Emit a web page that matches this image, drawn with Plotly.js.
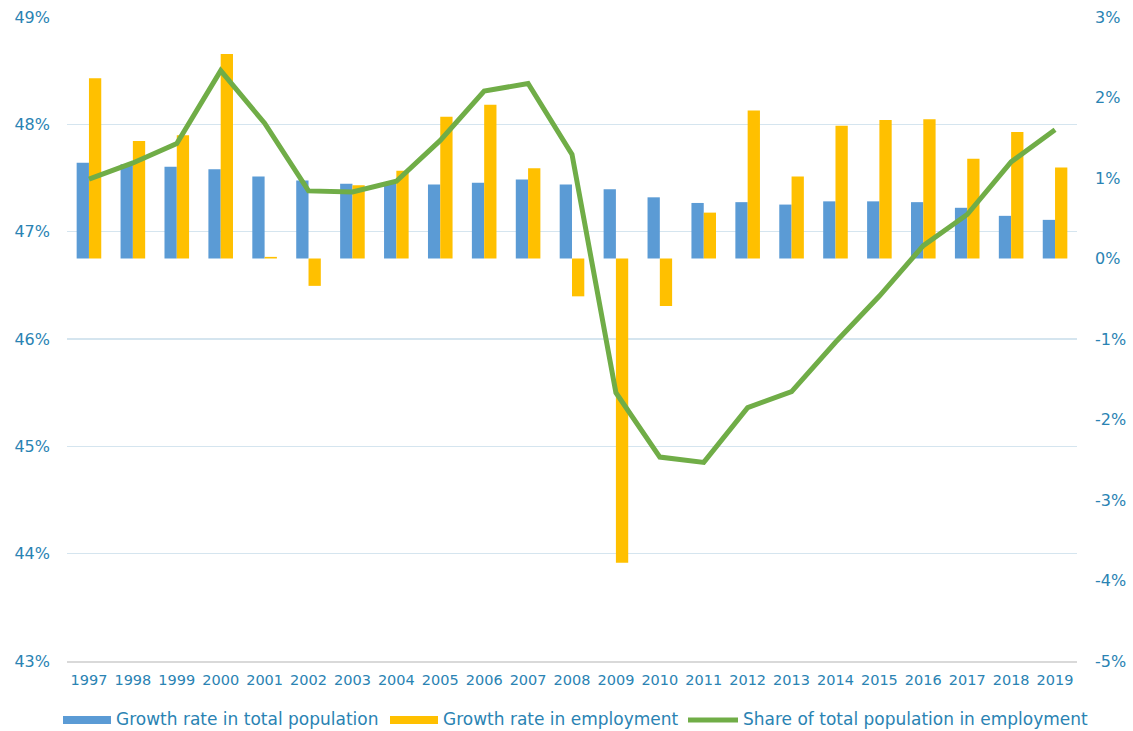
<!DOCTYPE html>
<html>
<head>
<meta charset="utf-8">
<script src="https://cdn.plot.ly/plotly-3.0.1.min.js"></script>
<style>
  html, body { margin: 0; padding: 0; background: #ffffff; }
  #chart { width: 1133px; height: 731px; }
</style>
</head>
<body>
<div id="chart"></div>
<script>
// ---- Data ----
const years = ['1997','1998','1999','2000','2001','2002','2003','2004','2005','2006','2007','2008',
               '2009','2010','2011','2012','2013','2014','2015','2016','2017','2018','2019'];
// Growth rate in total population (%), right axis
const popGrowth = [1.19,1.17,1.14,1.11,1.02,0.97,0.93,0.94,0.92,0.94,0.98,0.92,
                   0.86,0.76,0.69,0.70,0.67,0.71,0.71,0.70,0.63,0.53,0.48];
// Growth rate in employment (%), right axis
const empGrowth = [2.24,1.46,1.53,2.54,0.02,-0.34,0.91,1.09,1.76,1.91,1.12,-0.47,
                   -3.78,-0.59,0.57,1.84,1.02,1.65,1.72,1.73,1.24,1.57,1.13];
// Share of total population in employment (%), left axis
const share = [47.49,47.64,47.82,48.50,48.01,47.38,47.37,47.47,47.85,48.31,48.38,47.72,
               45.50,44.90,44.85,45.36,45.51,45.97,46.40,46.87,47.16,47.65,47.95];

// Tick values and labels
const rightTickVals = [-5,-4,-3,-2,-1,0,1,2,3];
const rightTickText = ['-5%','-4%','-3%','-2%','-1%','0%','1%','2%','3%'];
const leftTickVals = [43,44,45,46,47,48,49];
const leftTickText = ['43%','44%','45%','46%','47%','48%','49%'];

const seriesNames = ['Growth rate in total population', 'Growth rate in employment', 'Share of total population in employment'];
const seriesColors = ['#5B9BD5', '#FFC000', '#70AD47'];

const textColor = '#2A83B3';
const fontFamily = 'DejaVu Sans, Verdana, sans-serif';

const traces = [
  { type: 'bar', x: years, y: popGrowth, name: seriesNames[0], yaxis: 'y',
    marker: { color: seriesColors[0] } },
  { type: 'bar', x: years, y: empGrowth, name: seriesNames[1], yaxis: 'y',
    marker: { color: seriesColors[1] } },
  { type: 'scatter', mode: 'lines', x: years, y: share, name: seriesNames[2], yaxis: 'y2',
    line: { color: seriesColors[2], width: 5 } }
];

// plot-area geometry in pixels, used only for the hand-drawn legend
const W = 1133, H = 731, mL = 67, mR = 56, mT = 17, mB = 70;
const pw = W - mL - mR, ph = H - mT - mB;
const px = v => (v - mL) / pw;
const py = v => (H - mB - v) / ph;

const legendItems = [
  { sx0: 63,  sx1: 111, tx: 114, kind: 'bar' },
  { sx0: 390, sx1: 438, tx: 441, kind: 'bar' },
  { sx0: 688, sx1: 738, tx: 741, kind: 'line' }
];
const legendY = 720;
const shapes = [];
const annotations = [];
legendItems.forEach((it, i) => {
  if (it.kind === 'bar') {
    shapes.push({ type: 'rect', xref: 'paper', yref: 'paper',
      x0: px(it.sx0), x1: px(it.sx1), y0: py(legendY + 4), y1: py(legendY - 4),
      fillcolor: seriesColors[i], line: { width: 0 } });
  } else {
    shapes.push({ type: 'line', xref: 'paper', yref: 'paper',
      x0: px(it.sx0), x1: px(it.sx1), y0: py(legendY), y1: py(legendY),
      line: { color: seriesColors[i], width: 5 } });
  }
  annotations.push({ xref: 'paper', yref: 'paper', x: px(it.tx), y: py(legendY - 1),
    xanchor: 'left', yanchor: 'middle', showarrow: false, text: seriesNames[i],
    font: { family: fontFamily, size: 17, color: textColor } });
});

const layout = {
  width: W, height: H,
  margin: { l: mL, r: mR, t: mT, b: mB, pad: 0 },
  paper_bgcolor: '#ffffff', plot_bgcolor: '#ffffff',
  showlegend: false,
  barmode: 'group', bargap: 0.44, bargroupgap: 0,
  font: { family: fontFamily, color: textColor },
  xaxis: {
    type: 'category', range: [-0.5, 22.5],
    showgrid: false, zeroline: false,
    showline: true, linecolor: '#D9D9D9', linewidth: 1.5,
    ticks: '', ticklabelstandoff: 5,
    tickfont: { family: fontFamily, size: 14.5, color: textColor }
  },
  yaxis: {
    side: 'right', range: [-5, 3],
    tickmode: 'array', tickvals: rightTickVals, ticktext: rightTickText,
    showgrid: false, zeroline: false, showline: false,
    ticks: '', ticklabelstandoff: 17,
    tickfont: { family: fontFamily, size: 16, color: textColor }
  },
  yaxis2: {
    side: 'left', overlaying: 'y', range: [43, 49],
    tickmode: 'array', tickvals: leftTickVals, ticktext: leftTickText,
    showgrid: true, gridcolor: '#D5E5EF', gridwidth: 1.4,
    zeroline: false, showline: false,
    ticks: '', ticklabelstandoff: 16,
    tickfont: { family: fontFamily, size: 16, color: textColor }
  },
  shapes: shapes,
  annotations: annotations
};

Plotly.newPlot('chart', traces, layout, { displayModeBar: false, staticPlot: true });
</script>
</body>
</html>
